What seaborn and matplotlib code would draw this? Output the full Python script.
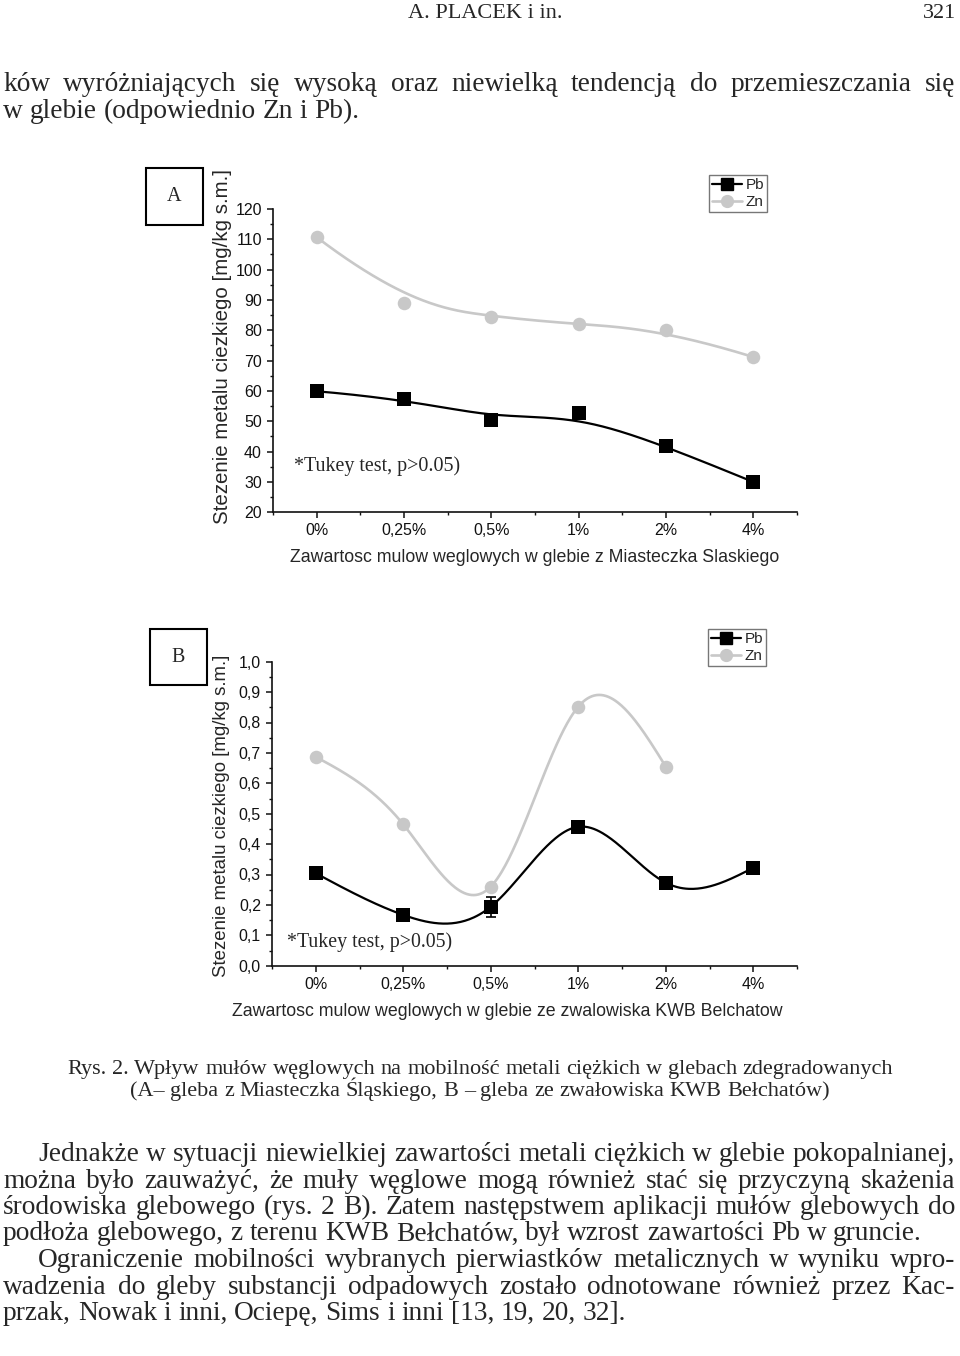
import numpy as np
import pandas as pd
import matplotlib
matplotlib.use("Agg")
import matplotlib.pyplot as plt
import seaborn as sns
from matplotlib.lines import Line2D
from matplotlib.patches import Rectangle
from matplotlib.ticker import MultipleLocator, FixedLocator, FuncFormatter

# ---------------- data ----------------
categories = ["0%", "0,25%", "0,5%", "1%", "2%", "4%"]
a_pb = [59.9, 57.5, 50.4, 52.6, 41.8, 30.0]
a_zn = [110.7, 88.9, 84.4, 82.0, 80.1, 71.2]
b_pb = [0.304, 0.167, 0.194, 0.457, 0.273, 0.322]
b_pb_err = [0.013, 0.012, 0.033, 0.015, 0.016, 0.006]
b_zn = [0.687, 0.465, 0.260, 0.852, 0.655]

ylabel_txt = "Stezenie metalu ciezkiego [mg/kg s.m.]"
xlabel_a = "Zawartosc mulow weglowych w glebie z Miasteczka Slaskiego"
xlabel_b = "Zawartosc mulow weglowych w glebie ze zwalowiska KWB Belchatow"
tukey_txt = "*Tukey test, p>0.05)"

header_txt = "A. PLACEK i in."
page_no = "321"
top_lines = [
    "ków wyróżniających się wysoką oraz niewielką tendencją do przemieszczania się",
    "w glebie (odpowiednio Zn i Pb).",
]
caption_lines = [
    "Rys. 2. Wpływ mułów węglowych na mobilność metali ciężkich w glebach zdegradowanych",
    "(A– gleba z Miasteczka Śląskiego, B – gleba ze zwałowiska KWB Bełchatów)",
]
body_lines = [
    "Jednakże w sytuacji niewielkiej zawartości metali ciężkich w glebie pokopalnianej,",
    "można było zauważyć, że muły węglowe mogą również stać się przyczyną skażenia",
    "środowiska glebowego (rys. 2 B). Zatem następstwem aplikacji mułów glebowych do",
    "podłoża glebowego, z terenu KWB Bełchatów, był wzrost zawartości Pb w gruncie.",
    "Ograniczenie mobilności wybranych pierwiastków metalicznych w wyniku wpro-",
    "wadzenia do gleby substancji odpadowych zostało odnotowane również przez Kac-",
    "przak, Nowak i inni, Ociepę, Sims i inni [13, 19, 20, 32].",
]

# ---------------- helpers ----------------
def natural_spline(x, y, n=300):
    x = np.asarray(x, float); y = np.asarray(y, float)
    m = len(x); h = np.diff(x)
    A = np.zeros((m, m)); r = np.zeros(m)
    A[0, 0] = 1; A[-1, -1] = 1
    for i in range(1, m - 1):
        A[i, i - 1] = h[i - 1]; A[i, i] = 2 * (h[i - 1] + h[i]); A[i, i + 1] = h[i]
        r[i] = 6 * ((y[i + 1] - y[i]) / h[i] - (y[i] - y[i - 1]) / h[i - 1])
    M = np.linalg.solve(A, r)
    xs = np.linspace(x[0], x[-1], n)
    idx = np.clip(np.searchsorted(x, xs) - 1, 0, m - 2)
    x0 = x[idx]; x1 = x[idx + 1]; hh = x1 - x0
    ys = (M[idx] * (x1 - xs) ** 3 / (6 * hh) + M[idx + 1] * (xs - x0) ** 3 / (6 * hh)
          + (y[idx] / hh - M[idx] * hh / 6) * (x1 - xs)
          + (y[idx + 1] / hh - M[idx + 1] * hh / 6) * (xs - x0))
    return xs, ys


def bspline_curve(x, y, n=300, k=3):
    P = np.column_stack([x, y]).astype(float)
    m = len(P)
    t = np.array([0] * (k + 1) + list(range(1, m - k)) + [m - k] * (k + 1), float)
    u = np.linspace(0, m - k, n)
    N = np.zeros((n, len(t) - 1))
    for i in range(len(t) - 1):
        N[:, i] = ((u >= t[i]) & (u < t[i + 1])).astype(float)
    N[u >= t[-1], m - 1] = 1.0
    for d in range(1, k + 1):
        NN = np.zeros((n, len(t) - 1 - d))
        for i in range(len(t) - 1 - d):
            a = 0.0; b = 0.0
            if t[i + d] - t[i] > 0:
                a = (u - t[i]) / (t[i + d] - t[i]) * N[:, i]
            if t[i + d + 1] - t[i + 1] > 0:
                b = (t[i + d + 1] - u) / (t[i + d + 1] - t[i + 1]) * N[:, i + 1]
            NN[:, i] = a + b
        N = NN
    C = N @ P
    return C[:, 0], C[:, 1]


# ---------------- figure ----------------
sns.set_style("ticks")
SANS = ["Liberation Sans", "DejaVu Sans"]
SERIF = ["Liberation Serif", "DejaVu Serif"]
plt.rcParams["font.family"] = SANS

W, H = 960, 1356
fig = plt.figure(figsize=(W / 100, H / 100), dpi=100)


def fx(px):
    return px / W


def fy(py):
    return 1 - py / H


PB = "black"
ZN = "#c8c8c8"
xi = np.arange(len(categories))

axA = fig.add_axes([fx(273), fy(512.3), (797 - 273) / W, (512.3 - 209) / H])
axB = fig.add_axes([fx(272), fy(965.7), (797 - 272) / W, (965.7 - 661.7) / H])


def style_ax(ax, ylim, major, minor, fmt):
    ax.set_xlim(-0.5, 5.5)
    ax.set_ylim(*ylim)
    ax.xaxis.set_major_locator(FixedLocator(list(xi)))
    ax.xaxis.set_major_formatter(FuncFormatter(lambda v, p: categories[int(round(v))]
                                               if 0 <= round(v) < len(categories) else ""))
    ax.xaxis.set_minor_locator(FixedLocator(list(np.arange(-0.5, 5.6, 1.0))))
    ax.yaxis.set_major_locator(MultipleLocator(major))
    ax.yaxis.set_minor_locator(MultipleLocator(minor))
    ax.yaxis.set_major_formatter(FuncFormatter(fmt))
    sns.despine(ax=ax)
    for s in ["left", "bottom"]:
        ax.spines[s].set_linewidth(1.2)
        ax.spines[s].set_color("#111111")
    ax.tick_params(which="major", direction="out", length=4, width=1.1,
                   labelsize=11.5, pad=4, color="#111111", labelcolor="#111111")
    ax.tick_params(which="minor", direction="out", length=2.5, width=1.0, color="#111111")
    ax.set_xlabel("")
    ax.set_ylabel("")
    ax.set_facecolor("none")


style_ax(axA, (20, 120), 10, 5, lambda v, p: f"{v:.0f}")
style_ax(axB, (0, 1.0), 0.1, 0.05, lambda v, p: f"{v:.1f}".replace(".", ","))

# ---- panel A ----
cx, cy = bspline_curve(xi, a_zn)
sns.lineplot(x=cx, y=cy, ax=axA, color=ZN, lw=1.9, sort=False, estimator=None)
sns.scatterplot(x=xi, y=a_zn, ax=axA, marker="o", s=95, color=ZN, edgecolor=ZN, linewidth=0, zorder=3)
cx, cy = bspline_curve(xi, a_pb)
sns.lineplot(x=cx, y=cy, ax=axA, color=PB, lw=1.6, sort=False, estimator=None)
sns.scatterplot(x=xi, y=a_pb, ax=axA, marker="s", s=90, color=PB, edgecolor=PB, linewidth=0, zorder=4)
axA.text(-0.26, 35.2, tukey_txt, family=SERIF, fontsize=14.4, va="center", ha="left")

# ---- panel B ----
xz = xi[:len(b_zn)]
cx, cy = natural_spline(xz, b_zn)
sns.lineplot(x=cx, y=cy, ax=axB, color=ZN, lw=1.9, sort=False, estimator=None)
sns.scatterplot(x=xz, y=b_zn, ax=axB, marker="o", s=95, color=ZN, edgecolor=ZN, linewidth=0, zorder=3)
cx, cy = natural_spline(xi, b_pb)
sns.lineplot(x=cx, y=cy, ax=axB, color=PB, lw=1.6, sort=False, estimator=None)
axB.errorbar(xi, b_pb, yerr=b_pb_err, fmt="none", ecolor=PB, elinewidth=1.2,
             capsize=3.6, capthick=1.2, zorder=4)
sns.scatterplot(x=xi, y=b_pb, ax=axB, marker="s", s=90, color=PB, edgecolor=PB, linewidth=0, zorder=5)
axB.text(-0.33, 0.078, tukey_txt, family=SERIF, fontsize=14.3, va="center", ha="left")

# legends
handles = [Line2D([], [], color=PB, lw=1.6, marker="s", markersize=8),
           Line2D([], [], color=ZN, lw=1.9, marker="o", markersize=8.5)]
for ax, (rx, ty) in [(axA, (767, 175)), (axB, (766, 629))]:
    leg = ax.legend(handles, ["Pb", "Zn"], loc="upper right",
                    bbox_to_anchor=(fx(rx), fy(ty)), bbox_transform=fig.transFigure,
                    frameon=True, fancybox=False, framealpha=1, edgecolor="#777777",
                    fontsize=11, handlelength=2.0, handletextpad=0.2, borderpad=0.2,
                    labelspacing=0.2, borderaxespad=0)
    leg.get_frame().set_linewidth(1.0)

# axis labels
fig.text(fx(222), fy(346.5), ylabel_txt, rotation=90, ha="center", va="center", fontsize=14.8)
fig.text(fx(222), fy(816), ylabel_txt, rotation=90, ha="center", va="center", fontsize=13.4)
fig.text(fx(535), fy(558), xlabel_a, ha="center", va="center", fontsize=12.8)
fig.text(fx(507), fy(1011), xlabel_b, ha="center", va="center", fontsize=12.8)

# panel label boxes
for (x0, y0, x1, y1, lab) in [(146, 168, 203, 225, "A"), (150, 629, 207, 685, "B")]:
    fig.add_artist(Rectangle((fx(x0), fy(y1)), (x1 - x0) / W, (y1 - y0) / H,
                             transform=fig.transFigure, fill=False, lw=1.5, ec="black"))
    fig.text(fx((x0 + x1) / 2), fy((y0 + y1) / 2), lab, family=SERIF, fontsize=14.5,
             ha="center", va="center")

# ---------------- page text ----------------
renderer = fig.canvas.get_renderer()


def draw_line(text, baseline, x0=None, x1=None, size=19.7, justify=False, center=None):
    words = text.split(" ")
    ts = [fig.text(0, fy(baseline), w, family=SERIF, fontsize=size, va="baseline", ha="left")
          for w in words]
    widths = [t.get_window_extent(renderer).width for t in ts]
    if justify and len(words) > 1:
        gap = (x1 - x0 - sum(widths)) / (len(words) - 1)
    else:
        gap = 0.25 * size * 100 / 72
    total = sum(widths) + gap * (len(words) - 1)
    x = center - total / 2 if center is not None else x0
    for t, w in zip(ts, widths):
        t.set_x(fx(x))
        x += w + gap


fig.text(fx(485), fy(18), header_txt, family=SERIF, fontsize=16, ha="center", va="baseline")
fig.text(fx(956), fy(18), page_no, family=SERIF, fontsize=16, ha="right", va="baseline")

draw_line(top_lines[0], 90.7, 3, 955, justify=True)
draw_line(top_lines[1], 118, 3)

draw_line(caption_lines[0], 1074, size=16, center=480)
draw_line(caption_lines[1], 1096, size=16, center=480)

bl = [1161, 1187.5, 1214, 1240.5, 1267, 1293.5, 1320]
specs = [(38, True), (3, True), (3, True), (3, False), (38, True), (3, True), (3, False)]
for line, b, (x0, j) in zip(body_lines, bl, specs):
    draw_line(line, b, x0, 955, justify=j)

fig.savefig("out.png", dpi=100)
